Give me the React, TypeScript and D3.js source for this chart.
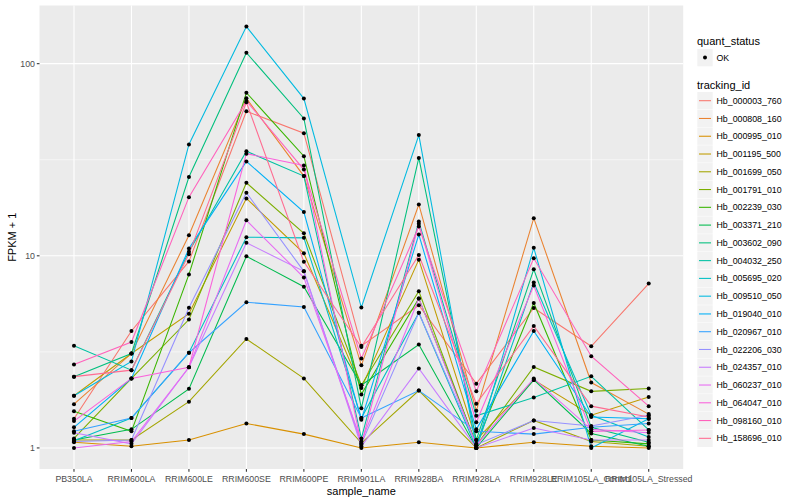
import * as React from 'react';
import * as d3 from 'd3';

// sample names along the x axis
const samples = [
  'PB350LA', 'RRIM600LA', 'RRIM600LE', 'RRIM600SE', 'RRIM600PE', 'RRIM901LA',
  'RRIM928BA', 'RRIM928LA', 'RRIM928LE', 'RRIM105LA_Control', 'RRIM105LA_Stressed',
];

const trackingIds = [
  'Hb_000003_760', 'Hb_000808_160', 'Hb_000995_010', 'Hb_001195_500', 'Hb_001699_050',
  'Hb_001791_010', 'Hb_002239_030', 'Hb_003371_210', 'Hb_003602_090', 'Hb_004032_250',
  'Hb_005695_020', 'Hb_009510_050', 'Hb_019040_010', 'Hb_020967_010', 'Hb_022206_030',
  'Hb_024357_010', 'Hb_060237_010', 'Hb_064047_010', 'Hb_098160_010', 'Hb_158696_010',
];

// ggplot default hue palette for 20 groups
const palette = [
  '#F8766D', '#EA8331', '#D89000', '#C09B00', '#A3A500', '#7CAE00', '#39B600',
  '#00BB4E', '#00BF7D', '#00C1A3', '#00BFC4', '#00BAE0', '#00B0F6', '#35A2FF',
  '#9590FF', '#C77CFF', '#E76BF3', '#FA62DB', '#FF62BC', '#FF6C91',
];

// FPKM + 1, one row per tracking id, one value per sample
const fpkm: number[][] = [
  [1.42, 4.06, 9.35, 56.5, 43.5, 3.4, 5.53, 2.16, 5.35, 3.38, 7.17],
  [1.69, 3.1, 12.8, 66, 26, 2.69, 18.5, 1.56, 15.7, 2.19, 1.5],
  [1.07, 1.02, 1.1, 1.34, 1.18, 1.0, 1.07, 1.0, 1.07, 1.02, 1.0],
  [1.87, 3.1, 5.0, 19.9, 10.3, 2.05, 9.55, 1.1, 2.26, 1.48, 1.84],
  [1.1, 1.1, 1.74, 3.69, 2.3, 1.06, 1.99, 1.0, 1.39, 1.08, 1.02],
  [1.12, 2.3, 4.66, 24, 13.1, 2.12, 6.54, 1.03, 2.64, 1.97, 2.04],
  [1.55, 1.22, 8.0, 70.6, 33, 1.9, 6.0, 1.05, 5.68, 1.1, 1.05],
  [1.1, 1.25, 2.03, 9.95, 6.9, 2.12, 3.45, 1.0, 2.26, 1.19, 1.02],
  [2.35, 3.1, 25.7, 114, 51.9, 1.61, 32.3, 1.1, 8.5, 1.28, 1.07],
  [3.4, 2.54, 10.5, 35, 26, 1.12, 15.1, 1.47, 1.83, 2.36, 1.24],
  [1.09, 1.43, 3.13, 12.5, 12.4, 1.43, 5.05, 1.0, 7.26, 1.48, 1.14],
  [1.87, 2.82, 38, 156, 65.8, 5.38, 42.5, 1.0, 11.0, 1.0, 1.42],
  [1.28, 2.3, 10.9, 31, 16.9, 1.4, 12.9, 1.25, 4.06, 1.45, 1.42],
  [1.22, 1.43, 3.13, 5.73, 5.42, 1.43, 1.99, 1.22, 1.18, 1.28, 1.34],
  [1.08, 1.1, 5.37, 21.3, 8.3, 1.05, 5.05, 1.04, 1.39, 1.3, 1.48],
  [1.2, 1.05, 2.63, 11.7, 8.3, 1.02, 2.59, 1.0, 1.27, 1.1, 1.1],
  [1.0, 1.08, 2.63, 15.3, 7.7, 1.08, 6.0, 1.03, 2.3, 1.25, 1.2],
  [1.38, 2.3, 2.63, 34, 29.5, 1.04, 14.7, 1.36, 7.0, 1.22, 1.24],
  [2.72, 3.56, 20.2, 64, 28.1, 2.92, 14.2, 1.97, 9.7, 3.0, 1.65],
  [2.35, 2.54, 10.2, 63, 9.3, 3.35, 10.1, 1.7, 4.31, 1.65, 1.45],
];

const yTicks = [1, 10, 100];
const yMinor = [Math.sqrt(10), Math.sqrt(1000)];

const W = 800;
const H = 500;
const panel = { left: 39.5, right: 683.2, top: 5.5, bottom: 469 };
const font = '"Liberation Sans", Arial, Helvetica, sans-serif';

export default function App() {
  const x = d3.scalePoint<string>()
    .domain(samples)
    .range([panel.left, panel.right])
    .padding(0.6);

  const all = fpkm.flat();
  const lo = Math.log10(d3.min(all) as number);
  const hi = Math.log10(d3.max(all) as number);
  const pad = (hi - lo) * 0.05;
  const y = d3.scaleLog()
    .domain([Math.pow(10, lo - pad), Math.pow(10, hi + pad)])
    .range([panel.bottom, panel.top]);

  const line = d3.line<number>()
    .x((_, i) => x(samples[i]) as number)
    .y((v) => y(v));

  const keyTop = 92;
  const keyStep = 17.77;

  return (
    <div style={{ position: 'fixed', left: 0, top: 0 }}>
      <svg width={W} height={H} style={{ display: 'block', background: '#fff' }} fontFamily={font}>
        <rect x={panel.left} y={panel.top} width={panel.right - panel.left}
              height={panel.bottom - panel.top} fill="#EBEBEB" />
        {yMinor.map((t) => (
          <line key={'m' + t} x1={panel.left} x2={panel.right} y1={y(t)} y2={y(t)}
                stroke="#fff" strokeWidth={0.55} />
        ))}
        {yTicks.map((t) => (
          <line key={'g' + t} x1={panel.left} x2={panel.right} y1={y(t)} y2={y(t)}
                stroke="#fff" strokeWidth={1.1} />
        ))}
        {samples.map((s) => (
          <line key={'v' + s} x1={x(s)} x2={x(s)} y1={panel.top} y2={panel.bottom}
                stroke="#fff" strokeWidth={1.1} />
        ))}

        {fpkm.map((row, i) => (
          <path key={trackingIds[i]} d={line(row) as string} fill="none"
                stroke={palette[i]} strokeWidth={1.07} />
        ))}
        {fpkm.map((row, i) => row.map((v, j) => (
          <circle key={i + '-' + j} cx={x(samples[j])} cy={y(v)} r={2} fill="#000" />
        )))}

        {/* axes */}
        {yTicks.map((t) => (
          <g key={'yt' + t}>
            <line x1={panel.left - 2.7} x2={panel.left} y1={y(t)} y2={y(t)} stroke="#333" strokeWidth={1.07} />
            <text x={panel.left - 4.5} y={y(t)} dy="0.35em" textAnchor="end" fontSize={8.8} fill="#4D4D4D">{t}</text>
          </g>
        ))}
        {samples.map((s) => (
          <g key={'xt' + s}>
            <line x1={x(s)} x2={x(s)} y1={panel.bottom} y2={panel.bottom + 2.7} stroke="#333" strokeWidth={1.07} />
            <text x={x(s)} y={panel.bottom + 13} textAnchor="middle" fontSize={8.8} fill="#4D4D4D">{s}</text>
          </g>
        ))}
        <text x={(panel.left + panel.right) / 2} y={495} textAnchor="middle" fontSize={11} fill="#000">sample_name</text>
        <text transform={`translate(16,${(panel.top + panel.bottom) / 2}) rotate(-90)`}
              textAnchor="middle" fontSize={11} fill="#000">FPKM + 1</text>

        {/* legends */}
        <text x={697} y={44.5} fontSize={11} fill="#000">quant_status</text>
        <rect x={697.3} y={49} width={15.4} height={17.3} fill="#F2F2F2" />
        <circle cx={705} cy={57.6} r={2} fill="#000" />
        <text x={716.5} y={57.6} dy="0.35em" fontSize={8.8} fill="#000">OK</text>

        <text x={697} y={88.5} fontSize={11} fill="#000">tracking_id</text>
        {trackingIds.map((id, i) => {
          const cy = keyTop + keyStep * i + 8.7;
          return (
            <g key={'k' + id}>
              <rect x={697.3} y={keyTop + keyStep * i} width={15.4} height={17.3} fill="#F2F2F2" />
              <line x1={699} x2={711} y1={cy} y2={cy} stroke={palette[i]} strokeWidth={1.07} />
              <text x={716.5} y={cy} dy="0.35em" fontSize={8.8} fill="#000">{id}</text>
            </g>
          );
        })}
      </svg>
    </div>
  );
}
